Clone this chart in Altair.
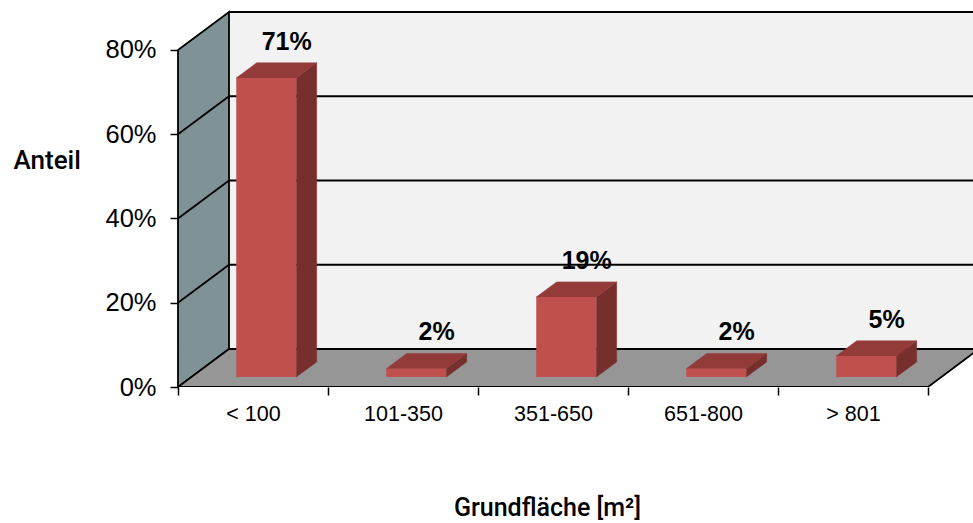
import json

import altair as alt
import pandas as pd

# ---- data -------------------------------------------------------------
CATEGORIES = ["< 100", "101-350", "351-650", "651-800", "> 801"]
SHARES = [71, 2, 19, 2, 5]          # percent
Y_TICKS = [0, 20, 40, 60, 80]
Y_MAX = 80

# ---- pseudo-3D geometry (data units) ---------------------------------
DEPTH_X = 0.34      # shift from front plane to back wall, in category units
DEPTH_Y = 9.02      # same shift, in percentage points
BAR_W = 0.4         # bar width, in category units
BAR_FRONT = 0.26    # depth fraction of a bar's front face
BAR_BACK = 0.66     # depth fraction of a bar's back face
X_MAX = 5.3
Y_TOP = Y_MAX + DEPTH_Y

FRONT_RED = "#c0504d"
TOP_RED = "#923b39"
SIDE_RED = "#772f2d"
SIDE_WALL = "#7f9396"
FLOOR = "#969696"
BACK_WALL = "#f2f2f2"
LINE_W = 1.8
TITLE_FONT = "Roboto"

xs = alt.Scale(domain=[0, X_MAX], nice=False, zero=False)
ys = alt.Scale(domain=[0, Y_TOP], nice=False, zero=False)

# ---- walls ---------------------------------------------------------------
back_wall = pd.DataFrame([{"x": DEPTH_X, "x2": X_MAX, "y": DEPTH_Y, "y2": Y_TOP}])
back_grid = pd.DataFrame(
    [{"x": DEPTH_X, "x2": X_MAX, "y": t + DEPTH_Y} for t in Y_TICKS[1:]]
)
side_wall = pd.DataFrame(
    [
        {"x": 0, "y": 0, "y2": Y_MAX},
        {"x": DEPTH_X, "y": DEPTH_Y, "y2": Y_TOP},
    ]
)
side_grid = pd.DataFrame(
    [{"x": 0, "x2": DEPTH_X, "y": t, "y2": t + DEPTH_Y} for t in Y_TICKS[1:-1]]
)
floor = pd.DataFrame(
    [
        {"y": 0, "x": 0, "x2": len(CATEGORIES)},
        {"y": DEPTH_Y, "x": DEPTH_X, "x2": len(CATEGORIES) + DEPTH_X},
    ]
)

# ---- bars ------------------------------------------------------------------
front_rows, side_rows, top_rows, label_rows = [], [], [], []
for i, (cat, v) in enumerate(zip(CATEGORIES, SHARES)):
    fl = i + 0.5 - BAR_W / 2 + DEPTH_X * BAR_FRONT
    bl = i + 0.5 - BAR_W / 2 + DEPTH_X * BAR_BACK
    yf = DEPTH_Y * BAR_FRONT
    yb = DEPTH_Y * BAR_BACK
    front_rows.append({"cat": cat, "x": fl, "x2": fl + BAR_W, "y": yf, "y2": yf + v})
    side_rows += [
        {"cat": cat, "x": fl + BAR_W, "y": yf, "y2": yf + v},
        {"cat": cat, "x": bl + BAR_W, "y": yb, "y2": yb + v},
    ]
    top_rows += [
        {"cat": cat, "y": yf + v, "x": fl, "x2": fl + BAR_W},
        {"cat": cat, "y": yb + v, "x": bl, "x2": bl + BAR_W},
    ]
    label_rows.append({"cat": cat, "x": bl + BAR_W / 2, "y": yb + v, "label": f"{v}%"})

front_df = pd.DataFrame(front_rows)
side_df = pd.DataFrame(side_rows)
top_df = pd.DataFrame(top_rows)
label_df = pd.DataFrame(label_rows)

# ---- axes ------------------------------------------------------------------
cat_js = json.dumps(CATEGORIES)
x_axis = alt.Axis(
    values=[k * 0.5 for k in range(2 * len(CATEGORIES) + 1)],
    labelExpr=f"datum.value % 1 == 0.5 ? {cat_js}[floor(datum.value)] : ''",
    tickOpacity={"condition": {"test": "datum.value % 1 != 0", "value": 0}, "value": 1},
    domain=False,
    grid=False,
    ticks=True,
    tickSize=8,
    tickColor="black",
    tickWidth=1.5,
    labelFlush=False,
    labelOverlap=False,
    labelBound=False,
    labelFont="Liberation Sans",
    labelFontSize=21.5,
    labelColor="black",
    labelPadding=8,
    title="Grundfläche [m²]",
    titleFont=TITLE_FONT,
    titleFontSize=25,
    titleFontWeight=500,
    titleColor="black",
    titleX=369,
    titleY=128,
    titleAlign="center",
    titleBaseline="alphabetic",
)
y_axis = alt.Axis(
    values=Y_TICKS,
    labelExpr="datum.value + '%'",
    domain=False,
    grid=False,
    tickSize=8,
    tickColor="black",
    tickWidth=1.5,
    labelFont="Liberation Sans",
    labelFontSize=25.5,
    labelColor="black",
    labelPadding=14,
    title="Anteil",
    titleAngle=0,
    titleX=-165,
    titleY=156,
    titleAlign="left",
    titleBaseline="alphabetic",
    titleFont=TITLE_FONT,
    titleFontSize=26,
    titleFontWeight=500,
    titleColor="black",
)

# ---- layers (x / y come from the shared layer encoding) -----------------
wall_back = alt.Chart(back_wall).mark_rect(color=BACK_WALL).encode(x2="x2", y2="y2")
grid_back = alt.Chart(back_grid).mark_rule(color="black", strokeWidth=LINE_W).encode(
    x2="x2"
)
wall_side = alt.Chart(side_wall).mark_area(
    color=SIDE_WALL, stroke="black", strokeWidth=LINE_W, opacity=1
).encode(y2="y2")
grid_side = alt.Chart(side_grid).mark_rule(color="black", strokeWidth=LINE_W).encode(
    x2="x2", y2="y2"
)
floor_layer = alt.Chart(floor).mark_area(
    orient="horizontal", color=FLOOR, stroke="black", strokeWidth=LINE_W,
    opacity=1, clip=True,
).encode(x2="x2")
bar_side = alt.Chart(side_df).mark_area(
    color=SIDE_RED, stroke=SIDE_RED, strokeWidth=0.5, opacity=1
).encode(y2="y2", detail="cat:N")
bar_top = alt.Chart(top_df).mark_area(
    orient="horizontal", color=TOP_RED, stroke=TOP_RED, strokeWidth=0.5, opacity=1
).encode(x2="x2", detail="cat:N")
bar_front = alt.Chart(front_df).mark_rect(color=FRONT_RED, opacity=1).encode(
    x2="x2", y2="y2"
)
labels = alt.Chart(label_df).mark_text(
    font="Liberation Sans",
    fontSize=25,
    fontWeight="bold",
    color="black",
    baseline="alphabetic",
    dy=-13,
).encode(text="label:N")

chart = (
    alt.layer(
        wall_back,
        grid_back,
        wall_side,
        grid_side,
        floor_layer,
        bar_side,
        bar_top,
        bar_front,
        labels,
    )
    .encode(
        x=alt.X("x:Q", scale=xs, axis=x_axis),
        y=alt.Y("y:Q", scale=ys, axis=y_axis),
    )
    .properties(
        width=795,
        height=375,
        autosize=alt.AutoSizeParams(type="none"),
        padding={"left": 178, "top": 12, "right": 0, "bottom": 136},
        background="white",
    )
    .configure_view(stroke=None)
)

chart.save("out.html", embed_options={"renderer": "svg", "actions": False})
